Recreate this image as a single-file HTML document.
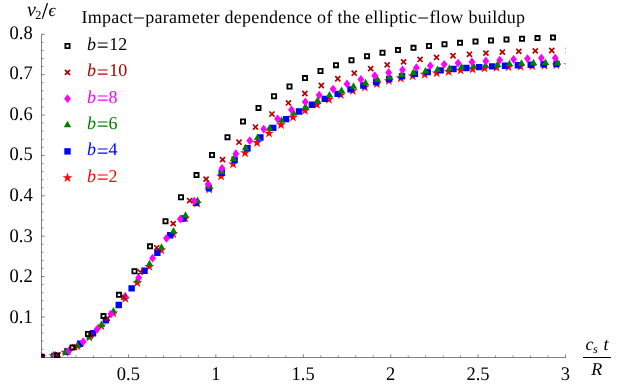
<!DOCTYPE html>
<html><head><meta charset="utf-8"><title>plot</title>
<style>
html,body{margin:0;padding:0;background:#fff;}
svg{display:block;will-change:transform;font-family:"Liberation Serif",serif;}
text{font-family:"Liberation Serif",serif;text-rendering:geometricPrecision;}
</style></head><body>
<svg width="623" height="385" viewBox="0 0 623 385">
<rect width="623" height="385" fill="#fff"/>
<g shape-rendering="crispEdges"><rect x="41" y="34" width="1" height="324" fill="#828282"/><rect x="41" y="357" width="525" height="1" fill="#828282"/></g>
<path d="M128.43,357.5v-3.2 M215.85,357.5v-3.2 M303.27,357.5v-3.2 M390.70,357.5v-3.2 M478.12,357.5v-3.2 M565.55,357.5v-3.2 M41.5,316.93h3.2 M41.5,276.55h3.2 M41.5,236.18h3.2 M41.5,195.80h3.2 M41.5,155.43h3.2 M41.5,115.05h3.2 M41.5,74.67h3.2 M41.5,34.30h3.2" stroke="#6a6a6a" stroke-width="0.85" fill="none"/>
<path d="M58.48,357.5v-2.0 M75.97,357.5v-2.0 M93.45,357.5v-2.0 M110.94,357.5v-2.0 M145.91,357.5v-2.0 M163.39,357.5v-2.0 M180.88,357.5v-2.0 M198.37,357.5v-2.0 M233.33,357.5v-2.0 M250.82,357.5v-2.0 M268.31,357.5v-2.0 M285.79,357.5v-2.0 M320.76,357.5v-2.0 M338.25,357.5v-2.0 M355.73,357.5v-2.0 M373.21,357.5v-2.0 M408.19,357.5v-2.0 M425.67,357.5v-2.0 M443.15,357.5v-2.0 M460.64,357.5v-2.0 M495.61,357.5v-2.0 M513.10,357.5v-2.0 M530.58,357.5v-2.0 M548.07,357.5v-2.0 M41.5,349.23h2.0 M41.5,341.15h2.0 M41.5,333.07h2.0 M41.5,325.00h2.0 M41.5,308.85h2.0 M41.5,300.78h2.0 M41.5,292.70h2.0 M41.5,284.62h2.0 M41.5,268.48h2.0 M41.5,260.40h2.0 M41.5,252.33h2.0 M41.5,244.25h2.0 M41.5,228.10h2.0 M41.5,220.03h2.0 M41.5,211.95h2.0 M41.5,203.88h2.0 M41.5,187.73h2.0 M41.5,179.65h2.0 M41.5,171.58h2.0 M41.5,163.50h2.0 M41.5,147.35h2.0 M41.5,139.28h2.0 M41.5,131.20h2.0 M41.5,123.13h2.0 M41.5,106.98h2.0 M41.5,98.90h2.0 M41.5,90.83h2.0 M41.5,82.75h2.0 M41.5,66.60h2.0 M41.5,58.53h2.0 M41.5,50.45h2.0 M41.5,42.38h2.0" stroke="#666" stroke-width="0.75" fill="none"/>
<clipPath id="cp"><rect x="41" y="0" width="524.5" height="358"/></clipPath>
<g clip-path="url(#cp)"><path fill="#ff0000" d="M41.50,351.80 L42.67,355.39 L46.45,355.39 L43.39,357.61 L44.56,361.21 L41.50,358.99 L38.44,361.21 L39.61,357.61 L36.55,355.39 L40.33,355.39Z M53.48,350.75 L54.64,354.35 L58.42,354.35 L55.36,356.57 L56.53,360.16 L53.48,357.94 L50.42,360.16 L51.59,356.57 L48.53,354.35 L52.31,354.35Z M65.45,347.13 L66.62,350.73 L70.40,350.73 L67.34,352.95 L68.51,356.54 L65.45,354.32 L62.39,356.54 L63.56,352.95 L60.50,350.73 L64.28,350.73Z M77.42,340.85 L78.59,344.44 L82.37,344.44 L79.31,346.66 L80.48,350.26 L77.42,348.04 L74.37,350.26 L75.54,346.66 L72.48,344.44 L76.26,344.44Z M89.40,331.98 L90.57,335.57 L94.35,335.57 L91.29,337.79 L92.46,341.38 L89.40,339.16 L86.34,341.38 L87.51,337.79 L84.45,335.57 L88.23,335.57Z M101.38,320.83 L102.54,324.42 L106.32,324.42 L103.26,326.64 L104.43,330.24 L101.38,328.02 L98.32,330.24 L99.49,326.64 L96.43,324.42 L100.21,324.42Z M113.35,307.79 L114.52,311.39 L118.30,311.39 L115.24,313.61 L116.41,317.20 L113.35,314.98 L110.29,317.20 L111.46,313.61 L108.40,311.39 L112.18,311.39Z M125.33,293.26 L126.49,296.85 L130.27,296.85 L127.21,299.08 L128.38,302.67 L125.33,300.45 L122.27,302.67 L123.44,299.08 L120.38,296.85 L124.16,296.85Z M137.30,277.65 L138.47,281.25 L142.25,281.25 L139.19,283.47 L140.36,287.06 L137.30,284.84 L134.24,287.06 L135.41,283.47 L132.35,281.25 L136.13,281.25Z M149.27,261.41 L150.44,265.00 L154.22,265.00 L151.16,267.22 L152.33,270.81 L149.27,268.59 L146.22,270.81 L147.39,267.22 L144.33,265.00 L148.11,265.00Z M161.25,244.95 L162.42,248.54 L166.20,248.54 L163.14,250.76 L164.31,254.35 L161.25,252.13 L158.19,254.35 L159.36,250.76 L156.30,248.54 L160.08,248.54Z M173.22,228.71 L174.39,232.30 L178.17,232.30 L175.11,234.52 L176.28,238.12 L173.22,235.90 L170.17,238.12 L171.34,234.52 L168.28,232.30 L172.06,232.30Z M185.20,213.07 L186.37,216.67 L190.15,216.67 L187.09,218.89 L188.26,222.48 L185.20,220.26 L182.14,222.48 L183.31,218.89 L180.25,216.67 L184.03,216.67Z M197.17,198.19 L198.34,201.79 L202.12,201.79 L199.06,204.01 L200.23,207.60 L197.17,205.38 L194.12,207.60 L195.29,204.01 L192.23,201.79 L196.01,201.79Z M209.15,184.17 L210.32,187.76 L214.10,187.76 L211.04,189.98 L212.21,193.58 L209.15,191.36 L206.09,193.58 L207.26,189.98 L204.20,187.76 L207.98,187.76Z M221.12,171.09 L222.29,174.68 L226.07,174.68 L223.01,176.90 L224.18,180.49 L221.12,178.27 L218.07,180.49 L219.24,176.90 L216.18,174.68 L219.96,174.68Z M233.10,158.96 L234.27,162.55 L238.05,162.55 L234.99,164.77 L236.16,168.36 L233.10,166.14 L230.04,168.36 L231.21,164.77 L228.15,162.55 L231.93,162.55Z M245.07,147.76 L246.24,151.36 L250.02,151.36 L246.96,153.58 L248.13,157.17 L245.07,154.95 L242.02,157.17 L243.19,153.58 L240.13,151.36 L243.91,151.36Z M257.05,137.51 L258.22,141.10 L262.00,141.10 L258.94,143.32 L260.11,146.91 L257.05,144.69 L253.99,146.91 L255.16,143.32 L252.10,141.10 L255.88,141.10Z M269.02,128.16 L270.19,131.75 L273.97,131.76 L270.91,133.98 L272.08,137.57 L269.02,135.35 L265.97,137.57 L267.14,133.98 L264.08,131.76 L267.86,131.75Z M281.00,119.71 L282.17,123.30 L285.95,123.30 L282.89,125.52 L284.06,129.11 L281.00,126.89 L277.94,129.11 L279.11,125.52 L276.05,123.30 L279.83,123.30Z M292.98,112.12 L294.14,115.71 L297.92,115.71 L294.86,117.94 L296.03,121.53 L292.98,119.31 L289.92,121.53 L291.09,117.94 L288.03,115.71 L291.81,115.71Z M304.95,105.38 L306.12,108.98 L309.90,108.98 L306.84,111.20 L308.01,114.79 L304.95,112.57 L301.89,114.79 L303.06,111.20 L300.00,108.98 L303.78,108.98Z M316.93,99.45 L318.09,103.05 L321.87,103.05 L318.81,105.27 L319.98,108.86 L316.93,106.64 L313.87,108.86 L315.04,105.27 L311.98,103.05 L315.76,103.05Z M328.90,94.25 L330.07,97.84 L333.85,97.84 L330.79,100.07 L331.96,103.66 L328.90,101.44 L325.84,103.66 L327.01,100.07 L323.95,97.84 L327.73,97.84Z M340.88,89.67 L342.04,93.27 L345.82,93.27 L342.76,95.49 L343.93,99.08 L340.88,96.86 L337.82,99.08 L338.99,95.49 L335.93,93.27 L339.71,93.27Z M352.85,85.62 L354.02,89.22 L357.80,89.22 L354.74,91.44 L355.91,95.03 L352.85,92.81 L349.79,95.03 L350.96,91.44 L347.90,89.22 L351.68,89.22Z M364.82,82.00 L365.99,85.60 L369.77,85.60 L366.71,87.82 L367.88,91.41 L364.82,89.19 L361.77,91.41 L362.94,87.82 L359.88,85.60 L363.66,85.60Z M376.80,78.71 L377.97,82.30 L381.75,82.30 L378.69,84.52 L379.86,88.12 L376.80,85.90 L373.74,88.12 L374.91,84.52 L371.85,82.30 L375.63,82.30Z M388.77,75.69 L389.94,79.28 L393.72,79.28 L390.66,81.50 L391.83,85.09 L388.77,82.87 L385.72,85.09 L386.89,81.50 L383.83,79.28 L387.61,79.28Z M400.75,73.02 L401.92,76.62 L405.70,76.62 L402.64,78.84 L403.81,82.43 L400.75,80.21 L397.69,82.43 L398.86,78.84 L395.80,76.62 L399.58,76.62Z M412.72,70.86 L413.89,74.45 L417.67,74.45 L414.61,76.67 L415.78,80.26 L412.72,78.04 L409.67,80.26 L410.84,76.67 L407.78,74.45 L411.56,74.45Z M424.70,69.23 L425.87,72.83 L429.65,72.83 L426.59,75.05 L427.76,78.64 L424.70,76.42 L421.64,78.64 L422.81,75.05 L419.75,72.83 L423.53,72.83Z M436.68,67.87 L437.84,71.46 L441.62,71.46 L438.56,73.68 L439.73,77.28 L436.68,75.06 L433.62,77.28 L434.79,73.68 L431.73,71.46 L435.51,71.46Z M448.65,66.49 L449.82,70.08 L453.60,70.08 L450.54,72.30 L451.71,75.89 L448.65,73.67 L445.59,75.89 L446.76,72.30 L443.70,70.08 L447.48,70.08Z M460.62,65.15 L461.79,68.74 L465.57,68.74 L462.51,70.96 L463.68,74.55 L460.62,72.33 L457.57,74.55 L458.74,70.96 L455.68,68.74 L459.46,68.74Z M472.60,63.99 L473.77,67.58 L477.55,67.58 L474.49,69.80 L475.66,73.40 L472.60,71.18 L469.54,73.40 L470.71,69.80 L467.65,67.58 L471.43,67.58Z M484.57,63.11 L485.74,66.71 L489.52,66.71 L486.46,68.93 L487.63,72.52 L484.57,70.30 L481.52,72.52 L482.69,68.93 L479.63,66.71 L483.41,66.71Z M496.55,62.43 L497.72,66.02 L501.50,66.02 L498.44,68.24 L499.61,71.84 L496.55,69.62 L493.49,71.84 L494.66,68.24 L491.60,66.02 L495.38,66.02Z M508.52,61.82 L509.69,65.42 L513.47,65.42 L510.41,67.64 L511.58,71.23 L508.52,69.01 L505.47,71.23 L506.64,67.64 L503.58,65.42 L507.36,65.42Z M520.50,61.27 L521.67,64.86 L525.45,64.86 L522.39,67.09 L523.56,70.68 L520.50,68.46 L517.44,70.68 L518.61,67.09 L515.55,64.86 L519.33,64.86Z M532.47,60.77 L533.64,64.36 L537.42,64.36 L534.36,66.59 L535.53,70.18 L532.47,67.96 L529.42,70.18 L530.59,66.59 L527.53,64.36 L531.31,64.36Z M544.45,60.32 L545.62,63.92 L549.40,63.92 L546.34,66.14 L547.51,69.73 L544.45,67.51 L541.39,69.73 L542.56,66.14 L539.50,63.92 L543.28,63.92Z M556.42,59.93 L557.59,63.52 L561.37,63.52 L558.31,65.74 L559.48,69.33 L556.42,67.11 L553.37,69.33 L554.54,65.74 L551.48,63.52 L555.26,63.52Z M568.40,59.57 L569.57,63.16 L573.35,63.16 L570.29,65.39 L571.46,68.98 L568.40,66.76 L565.34,68.98 L566.51,65.39 L563.45,63.16 L567.23,63.16Z"/>
<path fill="#0000ff" d="M38.30,353.80h6.4v6.4h-6.4Z M51.17,352.73h6.4v6.4h-6.4Z M64.05,348.27h6.4v6.4h-6.4Z M76.92,340.61h6.4v6.4h-6.4Z M89.80,330.08h6.4v6.4h-6.4Z M102.67,317.04h6.4v6.4h-6.4Z M115.55,301.87h6.4v6.4h-6.4Z M128.43,285.16h6.4v6.4h-6.4Z M141.30,267.54h6.4v6.4h-6.4Z M154.18,249.61h6.4v6.4h-6.4Z M167.05,232.03h6.4v6.4h-6.4Z M179.93,215.31h6.4v6.4h-6.4Z M192.80,199.66h6.4v6.4h-6.4Z M205.68,184.73h6.4v6.4h-6.4Z M218.55,169.57h6.4v6.4h-6.4Z M231.43,156.59h6.4v6.4h-6.4Z M244.30,144.98h6.4v6.4h-6.4Z M257.18,134.33h6.4v6.4h-6.4Z M270.05,124.66h6.4v6.4h-6.4Z M282.93,115.97h6.4v6.4h-6.4Z M295.80,108.27h6.4v6.4h-6.4Z M308.68,101.55h6.4v6.4h-6.4Z M321.55,95.71h6.4v6.4h-6.4Z M334.43,90.63h6.4v6.4h-6.4Z M347.30,86.20h6.4v6.4h-6.4Z M360.18,82.29h6.4v6.4h-6.4Z M373.05,78.81h6.4v6.4h-6.4Z M385.93,75.73h6.4v6.4h-6.4Z M398.80,73.03h6.4v6.4h-6.4Z M411.68,70.71h6.4v6.4h-6.4Z M424.55,68.76h6.4v6.4h-6.4Z M437.43,67.15h6.4v6.4h-6.4Z M450.30,65.85h6.4v6.4h-6.4Z M463.18,64.78h6.4v6.4h-6.4Z M476.05,63.91h6.4v6.4h-6.4Z M488.93,63.18h6.4v6.4h-6.4Z M501.80,62.54h6.4v6.4h-6.4Z M514.67,61.98h6.4v6.4h-6.4Z M527.55,61.49h6.4v6.4h-6.4Z M540.42,61.05h6.4v6.4h-6.4Z M553.30,60.68h6.4v6.4h-6.4Z"/>
<path fill="#008000" d="M41.50,352.67L45.20,359.17L37.80,359.17Z M53.50,351.41L57.20,357.91L49.80,357.91Z M65.50,347.79L69.20,354.29L61.80,354.29Z M77.50,341.46L81.20,347.96L73.80,347.96Z M89.50,332.25L93.20,338.75L85.80,338.75Z M101.50,320.56L105.20,327.06L97.80,327.06Z M113.50,306.97L117.20,313.47L109.80,313.47Z M125.50,292.01L129.20,298.51L121.80,298.51Z M137.50,276.11L141.20,282.61L133.80,282.61Z M149.50,259.69L153.20,266.19L145.80,266.19Z M161.50,243.16L165.20,249.66L157.80,249.66Z M173.50,226.93L177.20,233.43L169.80,233.43Z M185.50,211.35L189.20,217.85L181.80,217.85Z M197.50,196.56L201.20,203.06L193.80,203.06Z M209.50,182.27L213.20,188.77L205.80,188.77Z M221.50,167.70L225.20,174.20L217.80,174.20Z M233.50,154.81L237.20,161.31L229.80,161.31Z M245.50,143.79L249.20,150.29L241.80,150.29Z M257.50,133.49L261.20,139.99L253.80,139.99Z M269.50,124.20L273.20,130.70L265.80,130.70Z M281.50,116.29L285.20,122.79L277.80,122.79Z M293.50,109.04L297.20,115.54L289.80,115.54Z M305.50,102.38L309.20,108.88L301.80,108.88Z M317.50,96.40L321.20,102.90L313.80,102.90Z M329.50,91.09L333.20,97.59L325.80,97.59Z M341.50,86.40L345.20,92.90L337.80,92.90Z M353.50,82.28L357.20,88.78L349.80,88.78Z M365.50,78.68L369.20,85.18L361.80,85.18Z M377.50,75.57L381.20,82.07L373.80,82.07Z M389.50,72.88L393.20,79.38L385.80,79.38Z M401.50,70.56L405.20,77.06L397.80,77.06Z M413.50,68.58L417.20,75.08L409.80,75.08Z M425.50,66.88L429.20,73.38L421.80,73.38Z M437.50,65.42L441.20,71.92L433.80,71.92Z M449.50,64.14L453.20,70.64L445.80,70.64Z M461.50,63.02L465.20,69.52L457.80,69.52Z M473.50,62.05L477.20,68.55L469.80,68.55Z M485.50,61.19L489.20,67.69L481.80,67.69Z M497.50,60.43L501.20,66.93L493.80,66.93Z M509.50,59.76L513.20,66.26L505.80,66.26Z M521.50,59.20L525.20,65.70L517.80,65.70Z M533.50,58.80L537.20,65.30L529.80,65.30Z M545.50,58.60L549.20,65.10L541.80,65.10Z M557.50,58.64L561.20,65.14L553.80,65.14Z"/>
<path fill="#ff00ff" d="M41.50,352.60L44.90,357.00L41.50,361.40L38.10,357.00Z M55.38,351.11L58.78,355.51L55.38,359.91L51.98,355.51Z M69.27,346.01L72.67,350.41L69.27,354.81L65.87,350.41Z M83.16,337.23L86.56,341.63L83.16,346.03L79.75,341.63Z M97.04,324.88L100.44,329.28L97.04,333.68L93.64,329.28Z M110.92,309.64L114.33,314.04L110.92,318.44L107.52,314.04Z M124.81,292.27L128.21,296.67L124.81,301.07L121.41,296.67Z M138.69,273.43L142.09,277.83L138.69,282.23L135.29,277.83Z M152.58,253.73L155.98,258.13L152.58,262.53L149.18,258.13Z M166.47,233.89L169.87,238.29L166.47,242.69L163.06,238.29Z M180.35,214.82L183.75,219.22L180.35,223.62L176.95,219.22Z M194.23,196.72L197.63,201.12L194.23,205.52L190.83,201.12Z M208.12,179.71L211.52,184.11L208.12,188.51L204.72,184.11Z M222.00,163.88L225.41,168.28L222.00,172.68L218.60,168.28Z M235.89,149.36L239.29,153.76L235.89,158.16L232.49,153.76Z M249.78,136.26L253.18,140.66L249.78,145.06L246.38,140.66Z M263.66,124.64L267.06,129.04L263.66,133.44L260.26,129.04Z M277.54,114.41L280.94,118.81L277.54,123.21L274.14,118.81Z M291.43,105.42L294.83,109.82L291.43,114.22L288.03,109.82Z M305.31,97.55L308.71,101.95L305.31,106.35L301.92,101.95Z M319.20,90.66L322.60,95.06L319.20,99.46L315.80,95.06Z M333.08,84.66L336.48,89.06L333.08,93.46L329.69,89.06Z M346.97,79.48L350.37,83.88L346.97,88.28L343.57,83.88Z M360.86,75.05L364.25,79.45L360.86,83.85L357.46,79.45Z M374.74,71.28L378.14,75.68L374.74,80.08L371.34,75.68Z M388.62,68.12L392.02,72.52L388.62,76.92L385.23,72.52Z M402.51,65.47L405.91,69.87L402.51,74.27L399.11,69.87Z M416.39,63.27L419.79,67.67L416.39,72.07L413.00,67.67Z M430.28,61.45L433.68,65.85L430.28,70.25L426.88,65.85Z M444.17,59.92L447.56,64.32L444.17,68.72L440.77,64.32Z M458.05,58.64L461.45,63.04L458.05,67.44L454.65,63.04Z M471.94,57.54L475.33,61.94L471.94,66.34L468.54,61.94Z M485.82,56.59L489.22,60.99L485.82,65.39L482.42,60.99Z M499.70,55.72L503.10,60.12L499.70,64.52L496.31,60.12Z M513.59,54.90L516.99,59.30L513.59,63.70L510.19,59.30Z M527.47,54.20L530.87,58.60L527.47,63.00L524.07,58.60Z M541.36,53.71L544.76,58.11L541.36,62.51L537.96,58.11Z M555.25,53.51L558.64,57.91L555.25,62.31L551.85,57.91Z"/>
<path fill="none" stroke="#b00000" stroke-width="1.7" d="M38.95,354.45l5.1,5.1M38.95,359.55l5.1,-5.1 M55.41,352.35l5.1,5.1M55.41,357.45l5.1,-5.1 M71.87,344.91l5.1,5.1M71.87,350.01l5.1,-5.1 M88.33,332.59l5.1,5.1M88.33,337.69l5.1,-5.1 M104.79,315.86l5.1,5.1M104.79,320.96l5.1,-5.1 M121.25,294.76l5.1,5.1M121.25,299.86l5.1,-5.1 M137.71,269.51l5.1,5.1M137.71,274.61l5.1,-5.1 M154.17,245.25l5.1,5.1M154.17,250.35l5.1,-5.1 M170.63,221.08l5.1,5.1M170.63,226.18l5.1,-5.1 M187.09,197.98l5.1,5.1M187.09,203.08l5.1,-5.1 M203.55,176.56l5.1,5.1M203.55,181.66l5.1,-5.1 M220.01,157.04l5.1,5.1M220.01,162.14l5.1,-5.1 M236.47,139.65l5.1,5.1M236.47,144.75l5.1,-5.1 M252.93,124.52l5.1,5.1M252.93,129.62l5.1,-5.1 M269.39,111.52l5.1,5.1M269.39,116.62l5.1,-5.1 M285.85,100.41l5.1,5.1M285.85,105.51l5.1,-5.1 M302.31,90.95l5.1,5.1M302.31,96.05l5.1,-5.1 M318.77,82.94l5.1,5.1M318.77,88.04l5.1,-5.1 M335.23,76.22l5.1,5.1M335.23,81.32l5.1,-5.1 M351.69,70.65l5.1,5.1M351.69,75.75l5.1,-5.1 M368.15,66.07l5.1,5.1M368.15,71.17l5.1,-5.1 M384.61,62.35l5.1,5.1M384.61,67.45l5.1,-5.1 M401.07,59.34l5.1,5.1M401.07,64.44l5.1,-5.1 M417.53,56.90l5.1,5.1M417.53,62.00l5.1,-5.1 M433.99,54.89l5.1,5.1M433.99,59.99l5.1,-5.1 M450.45,53.18l5.1,5.1M450.45,58.28l5.1,-5.1 M466.91,51.73l5.1,5.1M466.91,56.83l5.1,-5.1 M483.37,50.54l5.1,5.1M483.37,55.64l5.1,-5.1 M499.83,49.58l5.1,5.1M499.83,54.68l5.1,-5.1 M516.29,48.84l5.1,5.1M516.29,53.94l5.1,-5.1 M532.75,48.31l5.1,5.1M532.75,53.41l5.1,-5.1 M549.21,47.96l5.1,5.1M549.21,53.06l5.1,-5.1 M565.67,47.65l5.1,5.1M565.67,52.75l5.1,-5.1"/>
<path fill="none" stroke="#000" stroke-width="1.8" d="M39.40,354.90h4.2v4.2h-4.2Z M54.90,353.30h4.2v4.2h-4.2Z M70.40,345.35h4.2v4.2h-4.2Z M85.90,331.91h4.2v4.2h-4.2Z M101.40,314.02h4.2v4.2h-4.2Z M116.90,292.73h4.2v4.2h-4.2Z M132.40,269.10h4.2v4.2h-4.2Z M147.90,244.23h4.2v4.2h-4.2Z M163.40,219.22h4.2v4.2h-4.2Z M178.90,195.17h4.2v4.2h-4.2Z M194.40,173.02h4.2v4.2h-4.2Z M209.90,152.97h4.2v4.2h-4.2Z M225.40,135.06h4.2v4.2h-4.2Z M240.90,119.33h4.2v4.2h-4.2Z M256.40,105.78h4.2v4.2h-4.2Z M271.90,94.20h4.2v4.2h-4.2Z M287.40,84.36h4.2v4.2h-4.2Z M302.90,76.02h4.2v4.2h-4.2Z M318.40,68.96h4.2v4.2h-4.2Z M333.90,63.03h4.2v4.2h-4.2Z M349.40,58.10h4.2v4.2h-4.2Z M364.90,54.04h4.2v4.2h-4.2Z M380.40,50.71h4.2v4.2h-4.2Z M395.90,47.99h4.2v4.2h-4.2Z M411.40,45.75h4.2v4.2h-4.2Z M426.90,43.85h4.2v4.2h-4.2Z M442.40,42.19h4.2v4.2h-4.2Z M457.90,40.73h4.2v4.2h-4.2Z M473.40,39.46h4.2v4.2h-4.2Z M488.90,38.36h4.2v4.2h-4.2Z M504.40,37.43h4.2v4.2h-4.2Z M519.90,36.65h4.2v4.2h-4.2Z M535.40,36.00h4.2v4.2h-4.2Z M550.90,35.48h4.2v4.2h-4.2Z"/></g>
<path fill="none" stroke="#000" stroke-width="1.8" d="M65.40,43.90h4.2v4.2h-4.2Z"/>
<path fill="none" stroke="#b00000" stroke-width="1.7" d="M64.95,69.80l5.1,5.1M64.95,74.90l5.1,-5.1"/>
<path fill="#ff00ff" d="M67.50,94.30L70.90,98.70L67.50,103.10L64.10,98.70Z"/>
<path fill="#008000" d="M67.50,120.72L71.20,127.22L63.80,127.22Z"/>
<path fill="#0000ff" d="M64.30,148.20h6.4v6.4h-6.4Z"/>
<path fill="#ff0000" d="M67.50,172.55 L68.67,176.14 L72.45,176.14 L69.39,178.36 L70.56,181.96 L67.50,179.74 L64.44,181.96 L65.61,178.36 L62.55,176.14 L66.33,176.14Z"/>
<text y="49.80" fill="#000" font-size="18"><tspan x="87" font-style="italic">b</tspan><tspan x="96.7" dy="2.4" font-size="21">=</tspan><tspan x="109.3" dy="-2.4">12</tspan></text>
<text y="76.15" fill="#b00000" font-size="18"><tspan x="87" font-style="italic">b</tspan><tspan x="96.7" dy="2.4" font-size="21">=</tspan><tspan x="109.3" dy="-2.4">10</tspan></text>
<text y="102.50" fill="#ff00ff" font-size="18"><tspan x="87" font-style="italic">b</tspan><tspan x="96.7" dy="2.4" font-size="21">=</tspan><tspan x="108.4" dy="-2.4">8</tspan></text>
<text y="128.85" fill="#008000" font-size="18"><tspan x="87" font-style="italic">b</tspan><tspan x="96.7" dy="2.4" font-size="21">=</tspan><tspan x="108.4" dy="-2.4">6</tspan></text>
<text y="155.20" fill="#0000ff" font-size="18"><tspan x="87" font-style="italic">b</tspan><tspan x="96.7" dy="2.4" font-size="21">=</tspan><tspan x="108.4" dy="-2.4">4</tspan></text>
<text y="181.55" fill="#ff0000" font-size="18"><tspan x="87" font-style="italic">b</tspan><tspan x="96.7" dy="2.4" font-size="21">=</tspan><tspan x="108.4" dy="-2.4">2</tspan></text>
<text transform="translate(9.60,322.83) scale(0.9585,1)" font-size="19.3" text-anchor="start">0.1</text>
<text transform="translate(9.60,282.23) scale(0.9585,1)" font-size="19.3" text-anchor="start">0.2</text>
<text transform="translate(9.60,241.62) scale(0.9585,1)" font-size="19.3" text-anchor="start">0.3</text>
<text transform="translate(9.60,201.02) scale(0.9585,1)" font-size="19.3" text-anchor="start">0.4</text>
<text transform="translate(9.60,160.41) scale(0.9585,1)" font-size="19.3" text-anchor="start">0.5</text>
<text transform="translate(9.60,119.81) scale(0.9585,1)" font-size="19.3" text-anchor="start">0.6</text>
<text transform="translate(9.60,79.20) scale(0.9585,1)" font-size="19.3" text-anchor="start">0.7</text>
<text transform="translate(9.60,38.60) scale(0.9585,1)" font-size="19.3" text-anchor="start">0.8</text>
<text transform="translate(128.33,379.70) scale(0.9585,1)" font-size="19.3" text-anchor="middle">0.5</text>
<text transform="translate(215.75,379.70) scale(0.9585,1)" font-size="19.3" text-anchor="middle">1</text>
<text transform="translate(303.17,379.70) scale(0.9585,1)" font-size="19.3" text-anchor="middle">1.5</text>
<text transform="translate(390.60,379.70) scale(0.9585,1)" font-size="19.3" text-anchor="middle">2</text>
<text transform="translate(478.02,379.70) scale(0.9585,1)" font-size="19.3" text-anchor="middle">2.5</text>
<text transform="translate(565.45,379.70) scale(0.9585,1)" font-size="19.3" text-anchor="middle">3</text>
<text x="81.4" y="22.5" font-size="18" textLength="443.7" lengthAdjust="spacing">Impact<tspan font-size="21" dy="2">−</tspan><tspan dy="-2">parameter dependence of the elliptic</tspan><tspan font-size="21" dy="2">−</tspan><tspan dy="-2">flow buildup</tspan></text>
<text y="16.1" font-size="20" font-style="italic" x="27">v</text>
<text y="18.8" font-size="12.3" x="35.2">2</text>
<path d="M42.3,18.6L47.5,3.0" stroke="#000" stroke-width="1.25" fill="none"/>
<text y="15.9" font-size="17.8" x="48.4" font-style="italic">ϵ</text>
<rect x="583" y="357" width="27.9" height="1" fill="#000"/>
<text y="349.7" font-size="18" font-style="italic" x="585.5">c</text>
<text y="353.2" font-size="12.3" font-style="italic" x="593">s</text>
<text y="349.7" font-size="18" font-style="italic" x="603.4">t</text>
<text y="375" font-size="18" font-style="italic" x="591.3">R</text>
</svg>
</body></html>
